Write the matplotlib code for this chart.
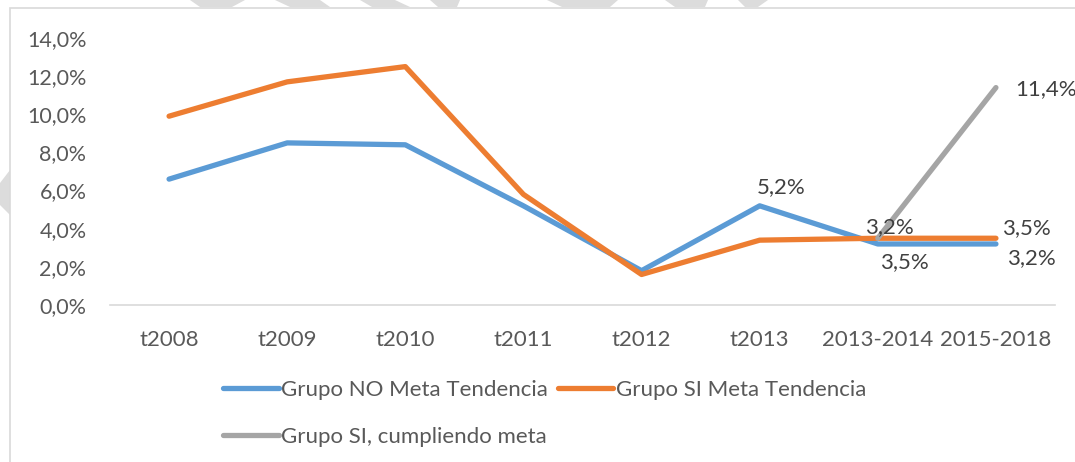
import numpy as np
import matplotlib.pyplot as plt
from matplotlib.patches import Rectangle, Polygon

# Datos
categorias = ["t2008", "t2009", "t2010", "t2011", "t2012", "t2013", "2013-2014", "2015-2018"]
grupo_no = [6.6, 8.5, 8.4, 5.2, 1.8, 5.2, 3.2, 3.2]
grupo_si = [9.9, 11.7, 12.5, 5.8, 1.6, 3.4, 3.5, 3.5]
cumpliendo_x = ["2013-2014", "2015-2018"]
cumpliendo = [3.5, 11.4]

# Etiquetas de datos (texto, categoria, valor, desplazamiento en px)
etiquetas = [
    ("5,2%", "t2013", 5.2, (21, 19)),
    ("3,2%", "2013-2014", 3.2, (12, 17)),
    ("3,5%", "2013-2014", 3.5, (27, -24)),
    ("3,5%", "2015-2018", 3.5, (30, 10)),
    ("3,2%", "2015-2018", 3.2, (35, -14)),
    ("11,4%", "2015-2018", 11.4, (50, -2)),
]

azul = "#5B9BD5"
naranja = "#ED7D31"
gris = "#A5A5A5"
texto = "#595959"

plt.rcParams['font.family'] = ['Lato', 'DejaVu Sans']

W, H = 1075, 462
fig = plt.figure(figsize=(W / 100, H / 100), dpi=100)

# Marca de agua (fondo) y borde del grafico
fondo = fig.add_axes([0, 0, 1, 1], zorder=-10)
fondo.set_xlim(0, W)
fondo.set_ylim(H, 0)
fondo.axis("off")
for pts in [
    [(190, 0), (245, 0), (232, 7), (200, 7)],
    [(275, 0), (320, 0), (330, 7), (290, 7)],
    [(360, 0), (395, 0), (410, 7), (372, 7)],
    [(430, 0), (460, 0), (457, 7), (438, 7)],
    [(547, 0), (618, 0), (610, 7), (562, 7)],
    [(665, 0), (708, 0), (705, 7), (675, 7)],
    [(738, 0), (768, 0), (758, 7), (745, 7)],
    [(0, 183), (10, 170), (10, 215), (0, 205)],
]:
    fondo.add_patch(Polygon(pts, closed=True, color="#dcdcdc", lw=0))
fondo.add_patch(Rectangle((10, 8), W, H, facecolor="white", edgecolor="#d9d9d9", lw=1.2))

ax = fig.add_axes([110 / W, 1 - 305 / H, (1055 - 110) / W, (305 - 38) / H])
ax.patch.set_alpha(0)

x = np.arange(len(categorias))
l1, = ax.plot(x, grupo_no, color=azul, lw=3.8, solid_capstyle="round", solid_joinstyle="round",
              label="Grupo NO Meta Tendencia")
l2, = ax.plot(x, grupo_si, color=naranja, lw=3.8, solid_capstyle="round", solid_joinstyle="round",
              label="Grupo SI Meta Tendencia")
xc = [categorias.index(c) for c in cumpliendo_x]
l3, = ax.plot(xc, cumpliendo, color=gris, lw=3.8, solid_capstyle="round", solid_joinstyle="round",
              label="Grupo SI, cumpliendo meta")

for t, c, v, (dx, dy) in etiquetas:
    ax.annotate(t, (categorias.index(c), v), xytext=(dx, dy), textcoords="offset pixels",
                ha="center", va="center", fontsize=16, color="#404040")

ax.set_xlim(-0.5, len(categorias) - 0.5)
ax.set_ylim(0, 14)
ax.set_yticks(np.arange(0, 15, 2))
ax.set_yticklabels([f"{v:.1f}%".replace(".", ",") for v in np.arange(0, 15, 2)])
ax.set_xticks(x)
ax.set_xticklabels(categorias)
ax.tick_params(axis="both", length=0, labelcolor=texto)
ax.tick_params(axis="y", pad=17, labelsize=15.5)
ax.tick_params(axis="x", pad=18, labelsize=16)
for s in ["top", "right", "left"]:
    ax.spines[s].set_visible(False)
ax.spines["bottom"].set_color("#d9d9d9")
ax.spines["bottom"].set_linewidth(1.2)

fig.legend(handles=[l1, l3, l2], loc="upper left", bbox_to_anchor=(212 / W, 1 - 369 / H),
           ncol=2, frameon=False, fontsize=16, labelcolor=texto, handlelength=2.5,
           handletextpad=0.1, columnspacing=0.45, labelspacing=1.2, borderpad=0)

plt.savefig("out.png", dpi=100)
